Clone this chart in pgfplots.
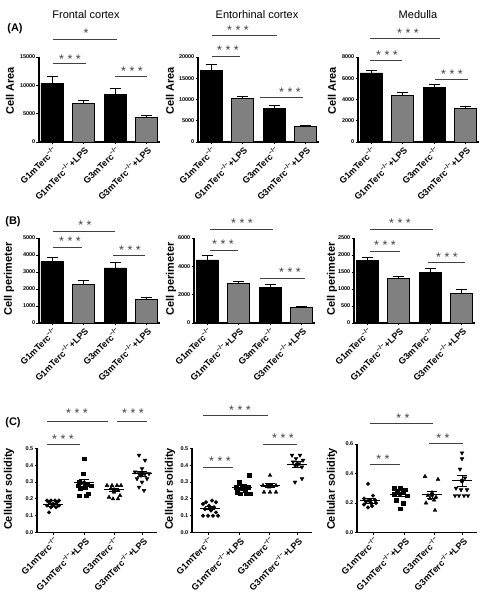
\documentclass[border=0pt]{standalone}
\usepackage{fontspec}
\setmainfont{Liberation Sans}
\usepackage{pgfplots}
\pgfplotsset{compat=1.18}
\definecolor{bargray}{HTML}{808080}
\definecolor{siggray}{HTML}{404040}
\newcommand{\ko}{\textsuperscript{−/−}}
\pgfplotsset{
  gp/.style={
    scale only axis, anchor=south west,
    axis x line=bottom, axis y line=left,
    axis line style={-, line width=1.1pt},
    tick align=outside, major tick length=2.5pt,
    every tick/.style={black, line width=0.8pt},
    ymin=0, clip=false,
    enlargelimits=false,
    xticklabel style={rotate=45, anchor=north east, font=\fontsize{9}{9}\selectfont\bfseries, inner sep=0.5pt},
    yticklabel style={font=\fontsize{5.5}{6}\selectfont\bfseries, inner sep=1pt},
    /pgf/number format/assume math mode=true,
    scaled y ticks=false,
    /pgf/number format/1000 sep={},
  },
  gpbar/.style={gp, width=121pt, xmin=0, xmax=121, height=85pt, xtick={13,44,76,107},
    xticklabels={G1mTerc\ko, G1mTerc\ko+LPS, G3mTerc\ko, G3mTerc\ko+LPS}},
  gpdot/.style={gp, width=120pt, xmin=0, xmax=120, xtick={16,47,77,105},
    xticklabels={G1mTerc\ko, G1mTerc\ko+LPS, G3mTerc\ko, G3mTerc\ko+LPS},
    yticklabel style={/pgf/number format/.cd, fixed, fixed zerofill, precision=1}},
  blackbar/.style={ybar, bar shift=0pt, bar width=22, fill=black, draw=black, line width=0.7pt,
    error bars/.cd, y dir=plus, y explicit, error bar style={black, line width=0.9pt},
    error mark options={rotate=90, mark size=5.5pt, line width=0.9pt, black}},
  graybar/.style={ybar, bar shift=0pt, bar width=22, fill=bargray, draw=black, line width=0.7pt,
    error bars/.cd, y dir=plus, y explicit, error bar style={black, line width=0.9pt},
    error mark options={rotate=90, mark size=5.5pt, line width=0.9pt, black}},
  meanl/.style={black, line width=1pt, mark=none},
  sem/.style={black, only marks, mark=none, error bars/.cd, y dir=both, y explicit,
    error bar style={black, line width=0.9pt},
    error mark options={rotate=90, mark size=5pt, line width=0.9pt, black}},
  circ/.style={black, only marks, mark=*, mark size=1.8pt},
  sq/.style={black, only marks, mark=square*, mark size=1.7pt},
  tup/.style={black, only marks, mark=triangle*, mark size=2.2pt},
  tdn/.style={black, only marks, mark=triangle*, mark size=2.2pt, mark options={rotate=180}},
}
\tikzset{
  sigl/.style={siggray, line width=0.9pt},
  star/.style={font=\fontsize{12.5}{12}\selectfont, text=siggray, inner sep=0pt, yshift=-3pt},
  ttl/.style={font=\fontsize{11}{12}\selectfont},
  lett/.style={font=\fontsize{11}{12}\selectfont\bfseries},
  ylab/.style={font=\fontsize{11}{12}\selectfont\bfseries, rotate=90},
}
\begin{document}
\begin{tikzpicture}[x=1pt,y=1pt]
\useasboundingbox (0,0) rectangle (482,599);

% ---------- Row A ----------
\begin{axis}[gpbar, at={(39pt,457pt)}, ymax=15000, ytick={0,5000,10000,15000}]
\addplot[blackbar] coordinates {(13,10400) +- (0,1170) (76,8430) +- (0,1050)};
\addplot[graybar] coordinates {(44,6800) +- (0,600) (107,4300) +- (0,350)};
\end{axis}
\begin{axis}[gpbar, at={(198pt,457pt)}, ymax=20000, ytick={0,5000,10000,15000,20000}]
\addplot[blackbar] coordinates {(13,16900) +- (0,1400) (76,7800) +- (0,700)};
\addplot[graybar] coordinates {(44,10200) +- (0,400) (107,3600) +- (0,200)};
\end{axis}
\begin{axis}[gpbar, at={(358pt,457pt)}, ymax=8000, ytick={0,2000,4000,6000,8000}]
\addplot[blackbar] coordinates {(13,6500) +- (0,250) (76,5150) +- (0,300)};
\addplot[graybar] coordinates {(44,4400) +- (0,250) (107,3150) +- (0,200)};
\end{axis}

% ---------- Row B ----------
\begin{axis}[gpbar, at={(39pt,276pt)}, ymax=5000, ytick={0,1000,2000,3000,4000,5000}]
\addplot[blackbar] coordinates {(13,3640) +- (0,210) (76,3240) +- (0,320)};
\addplot[graybar] coordinates {(44,2250) +- (0,230) (107,1380) +- (0,120)};
\end{axis}
\begin{axis}[gpbar, at={(194pt,276pt)}, ymax=6000, ytick={0,2000,4000,6000}]
\addplot[blackbar] coordinates {(13,4450) +- (0,300) (76,2500) +- (0,200)};
\addplot[graybar] coordinates {(44,2800) +- (0,120) (107,1070) +- (0,100)};
\end{axis}
\begin{axis}[gpbar, at={(354pt,276pt)}, ymax=2500, ytick={0,500,1000,1500,2000,2500}]
\addplot[blackbar] coordinates {(13,1850) +- (0,70) (76,1480) +- (0,110)};
\addplot[graybar] coordinates {(44,1320) +- (0,40) (107,870) +- (0,110)};
\end{axis}

% ---------- Row C ----------
\begin{axis}[gpdot, at={(37pt,66.5pt)}, height=84pt, ymax=0.5, ytick={0,0.1,0.2,0.3,0.4,0.5}]
\addplot[circ] coordinates {(10,0.19) (14,0.19) (18,0.19) (22,0.19) (12,0.18) (20,0.18) (16,0.17) (10,0.16) (22,0.16) (14,0.15) (19,0.15) (12,0.12)};
\addplot[sq] coordinates {(47,0.44) (46,0.35) (42,0.30) (50,0.29) (41,0.28) (54,0.28) (48,0.27) (43,0.26) (51,0.23) (42,0.22) (49,0.22)};
\addplot[tup] coordinates {(70,0.28) (75,0.28) (80,0.28) (84,0.28) (74,0.26) (81,0.25) (77,0.24) (83,0.22) (72,0.21) (76,0.20) (81,0.20)};
\addplot[tdn] coordinates {(102,0.46) (108,0.43) (105,0.38) (98,0.36) (102,0.35) (108,0.35) (112,0.35) (104,0.34) (100,0.32) (110,0.32) (105,0.30) (102,0.27) (107,0.25)};
\addplot[meanl] coordinates {(6,0.165) (26,0.165)};
\addplot[meanl] coordinates {(37,0.295) (57,0.295)};
\addplot[meanl] coordinates {(67,0.255) (87,0.255)};
\addplot[meanl] coordinates {(95,0.35) (115,0.35)};
\addplot[sem] coordinates {(16,0.165) +- (0,0.008) (47,0.295) +- (0,0.02) (77,0.255) +- (0,0.01) (105,0.35) +- (0,0.016)};
\end{axis}
\begin{axis}[gpdot, at={(192pt,66.5pt)}, height=84pt, ymax=0.5, ytick={0,0.1,0.2,0.3,0.4,0.5}]
\addplot[circ] coordinates {(20,0.19) (14,0.18) (24,0.18) (11,0.17) (17,0.16) (22,0.15) (13,0.14) (19,0.13) (24,0.12) (11,0.10) (16,0.10) (21,0.10) (26,0.10)};
\addplot[sq] coordinates {(57,0.34) (47,0.30) (52,0.28) (44,0.27) (56,0.27) (49,0.26) (53,0.25) (45,0.24) (48,0.23) (54,0.23) (58,0.23)};
\addplot[tup] coordinates {(78,0.34) (71,0.28) (75,0.28) (80,0.28) (84,0.28) (77,0.27) (72,0.24) (78,0.24) (84,0.24)};
\addplot[tdn] coordinates {(100,0.46) (108,0.46) (104,0.44) (111,0.43) (101,0.42) (107,0.41) (103,0.40) (110,0.39) (110,0.32) (103,0.30)};
\addplot[meanl] coordinates {(8,0.145) (28,0.145)};
\addplot[meanl] coordinates {(40,0.27) (60,0.27)};
\addplot[meanl] coordinates {(68,0.28) (88,0.28)};
\addplot[meanl] coordinates {(95,0.405) (115,0.405)};
\addplot[sem] coordinates {(18,0.145) +- (0,0.01) (50,0.27) +- (0,0.01) (78,0.28) +- (0,0.01) (105,0.405) +- (0,0.018)};
\end{axis}
\begin{axis}[gpdot, at={(357pt,66.5pt)}, height=88.5pt, ymax=0.6, ytick={0,0.2,0.4,0.6}]
\addplot[circ] coordinates {(11,0.33) (16,0.25) (7,0.23) (12,0.22) (18,0.22) (9,0.21) (14,0.20) (19,0.20) (7,0.19) (15,0.18) (11,0.17)};
\addplot[sq] coordinates {(37,0.30) (43,0.30) (48,0.29) (40,0.28) (46,0.28) (37,0.26) (50,0.25) (39,0.22) (46,0.20) (43,0.16)};
\addplot[tup] coordinates {(68,0.38) (81,0.36) (75,0.27) (71,0.25) (79,0.24) (73,0.23) (77,0.22) (69,0.20) (78,0.15)};
\addplot[tdn] coordinates {(105,0.54) (105,0.50) (103,0.43) (108,0.37) (99,0.30) (104,0.29) (110,0.29) (98,0.25) (102,0.25) (107,0.25) (111,0.25)};
\addplot[meanl] coordinates {(3,0.215) (23,0.215)};
\addplot[meanl] coordinates {(33,0.26) (53,0.26)};
\addplot[meanl] coordinates {(65,0.255) (85,0.255)};
\addplot[meanl] coordinates {(95,0.35) (115,0.35)};
\addplot[sem] coordinates {(13,0.215) +- (0,0.015) (43,0.26) +- (0,0.014) (75,0.255) +- (0,0.022) (105,0.35) +- (0,0.035)};
\end{axis}

% ---------- titles & labels ----------
\node[ttl] at (86,{599-15}) {Frontal cortex};
\node[ttl] at (257,{599-15}) {Entorhinal cortex};
\node[ttl] at (418,{599-15}) {Medulla};
\node[lett] at (15,{599-29}) {(A)};
\node[lett] at (13,{599-222}) {(B)};
\node[lett] at (13,{599-423}) {(C)};
\node[ylab] at (10,{599-91}) {Cell Area};
\node[ylab] at (170,{599-91}) {Cell Area};
\node[ylab] at (332,{599-91}) {Cell Area};
\node[ylab] at (9,{599-279}) {Cell perimeter};
\node[ylab] at (171,{599-279}) {Cell perimeter};
\node[ylab] at (332,{599-279}) {Cell perimeter};
\node[ylab] at (9,{599-489}) {Cellular solidity};
\node[ylab] at (170,{599-489}) {Cellular solidity};
\node[ylab] at (332,{599-489}) {Cellular solidity};

% ---------- significance ----------
% Frontal A
\draw[sigl] (53,{599-39}) -- (117,{599-39}); \node[star] at (86,{599-30}) {*};
\draw[sigl] (53,{599-63}) -- (86,{599-63}); \node[star] at (70,{599-56}) {* * *};
\draw[sigl] (115,{599-76}) -- (147,{599-76}); \node[star] at (132,{599-68}) {* * *};
% Entorhinal A
\draw[sigl] (212,{599-35}) -- (277,{599-35}); \node[star] at (238,{599-27}) {* * *};
\draw[sigl] (212,{599-56}) -- (240,{599-56}); \node[star] at (228,{599-47}) {* * *};
\draw[sigl] (260,{599-97}) -- (303,{599-97}); \node[star] at (290,{599-89}) {* * *};
% Medulla A
\draw[sigl] (370,{599-38}) -- (440,{599-38}); \node[star] at (408,{599-30}) {* * *};
\draw[sigl] (370,{599-60}) -- (402,{599-60}); \node[star] at (387,{599-52}) {* * *};
\draw[sigl] (435,{599-79}) -- (468,{599-79}); \node[star] at (452,{599-71}) {* * *};
% Frontal B
\draw[sigl] (53,{599-231}) -- (115,{599-231}); \node[star] at (85,{599-222}) {* *};
\draw[sigl] (53,{599-247}) -- (82,{599-247}); \node[star] at (70,{599-238}) {* * *};
\draw[sigl] (113,{599-255}) -- (145,{599-255}); \node[star] at (130,{599-247}) {* * *};
% Entorhinal B
\draw[sigl] (210,{599-229}) -- (273,{599-229}); \node[star] at (242,{599-220}) {* * *};
\draw[sigl] (210,{599-250}) -- (238,{599-250}); \node[star] at (223,{599-241}) {* * *};
\draw[sigl] (260,{599-278}) -- (305,{599-278}); \node[star] at (290,{599-269}) {* * *};
% Medulla B
\draw[sigl] (370,{599-229}) -- (433,{599-229}); \node[star] at (400,{599-220}) {* * *};
\draw[sigl] (370,{599-251}) -- (400,{599-251}); \node[star] at (385,{599-242}) {* * *};
\draw[sigl] (428,{599-262}) -- (465,{599-262}); \node[star] at (447,{599-254}) {* * *};
% Frontal C
\draw[sigl] (47,{599-421}) -- (108,{599-421}); \node[star] at (77,{599-410}) {* * *};
\draw[sigl] (117,{599-421}) -- (147,{599-421}); \node[star] at (133,{599-410}) {* * *};
\draw[sigl] (47,{599-444}) -- (80,{599-444}); \node[star] at (63,{599-436}) {* * *};
% Entorhinal C
\draw[sigl] (203,{599-415}) -- (268,{599-415}); \node[star] at (240,{599-407}) {* * *};
\draw[sigl] (263,{599-444}) -- (297,{599-444}); \node[star] at (283,{599-435}) {* * *};
\draw[sigl] (203,{599-467}) -- (233,{599-467}); \node[star] at (220,{599-458}) {* * *};
% Medulla C
\draw[sigl] (370,{599-423}) -- (433,{599-423}); \node[star] at (403,{599-415}) {* *};
\draw[sigl] (429,{599-443}) -- (463,{599-443}); \node[star] at (443,{599-435}) {* *};
\draw[sigl] (370,{599-464}) -- (400,{599-464}); \node[star] at (383,{599-456}) {* *};
\end{tikzpicture}
\end{document}
